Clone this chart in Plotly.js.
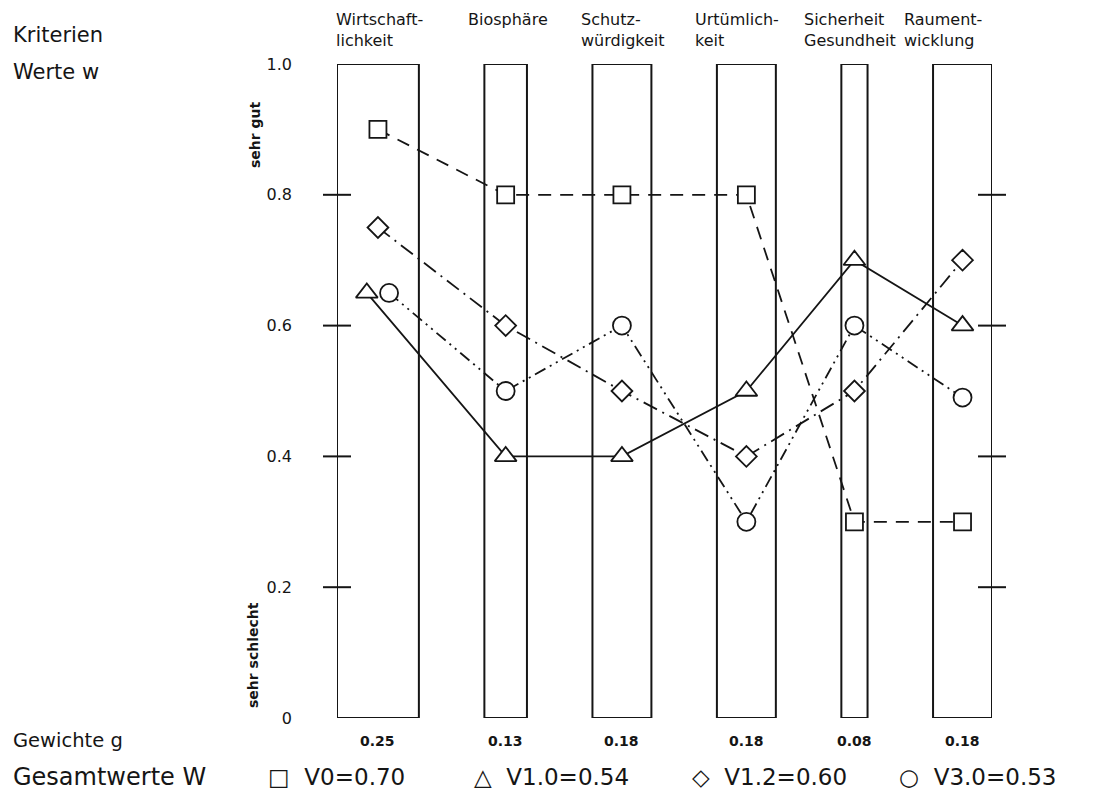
<!DOCTYPE html>
<html><head><meta charset="utf-8">
<script src="https://cdn.plot.ly/plotly-3.0.1.min.js"></script>
<style>html,body{margin:0;padding:0;background:#fff}#chart{width:1119px;height:796px}</style>
</head><body><div id="chart"></div>
<script>
// ---- data ----
const criteria = ["Wirtschaft-<br>lichkeit","Biosphäre","Schutz-<br>würdigkeit","Urtümlich-<br>keit","Sicherheit<br>Gesundheit","Raument-<br>wicklung"];
const weights = [0.25,0.13,0.18,0.18,0.08,0.18];
const weightLabels = ["0.25","0.13","0.18","0.18","0.08","0.18"];
const variants = ["V0","V1.0","V1.2","V3.0"];
const totals = [0.70,0.54,0.60,0.53];
const valuesV0  = [0.90,0.80,0.80,0.80,0.30,0.30];
const valuesV10 = [0.65,0.40,0.40,0.50,0.70,0.60];
const valuesV12 = [0.75,0.60,0.50,0.40,0.50,0.70];
const valuesV30 = [0.65,0.50,0.60,0.30,0.60,0.49];
const yTickVals = [0,0.2,0.4,0.6,0.8,1.0];
const yTickText = ["0","0.2","0.4","0.6","0.8","1.0"];

// ---- layout constants ----
const GAP = 0.2;
const L = 337, R = 992, T = 64, B = 718, W = 1119, H = 796;
const FONT = "DejaVu Sans";
const INK = "#151515";
const lefts = []; let acc = 0;
weights.forEach(w => { lefts.push(acc); acc += w + GAP; });
const xMax = acc - GAP;
const centers = weights.map((w,i) => lefts[i] + w/2);
const px = p => (p - L) / (R - L);
const py = p => (B - p) / (B - T);

const styles = [
  {symbol:"square", size:17, dash:"13px,9px", sym:"□", shift:[0,0,0,0,0,0]},
  {symbol:"triangle-up", size:19, dash:"solid", sym:"△", shift:[-0.034,0,0,0,0,0]},
  {symbol:"diamond", size:16, dash:"15px,6px,2px,6px", sym:"◇", shift:[0,0,0,0,0,0]},
  {symbol:"circle", size:18, dash:"12px,5px,2px,5px,2px,5px", sym:"○", shift:[0.034,0,0,0,0,0]}
];
const seriesValues = [valuesV0, valuesV10, valuesV12, valuesV30];

const traces = [];
traces.push({
  type:"bar", x:centers, y:weights.map(()=>1), width:weights, base:0,
  marker:{color:"rgba(255,255,255,1)", line:{color:INK, width:2}},
  hoverinfo:"skip", cliponaxis:false
});
seriesValues.forEach((vals, k) => {
  const s = styles[k];
  traces.push({
    type:"scatter", mode:"lines+markers", name:variants[k],
    x:centers.map((c,i)=>c + s.shift[i]), y:vals,
    line:{color:INK, width:1.8, dash:s.dash},
    marker:{symbol:s.symbol, size:s.size, color:"#fff", line:{color:INK, width:1.8}},
    cliponaxis:false
  });
});
const inner = yTickVals.filter(v => v > 0 && v < 1);
traces.push({
  type:"scatter", mode:"markers", hoverinfo:"skip",
  x:inner.map(()=>0).concat(inner.map(()=>xMax)), y:inner.concat(inner),
  marker:{symbol:"line-ew", size:20, line:{color:INK, width:2}},
  cliponaxis:false
});

const ann = [];
const txt = (text, x, y, size, opts={}) => ann.push(Object.assign({
  text, x, y, xref:"paper", yref:"paper", showarrow:false,
  font:{family:FONT, size, color:INK}, xanchor:"left", yanchor:"middle"
}, opts));

txt("Kriterien", px(11), py(35), 21);
txt("Werte w", px(11), py(72), 21);
txt("Gewichte g", px(11), py(740), 19.5);
txt("Gesamtwerte W", px(11), py(777), 24);

const catX = [334, 466, 579, 693, 802, 902];
criteria.forEach((c,i) => txt(c, px(catX[i]), py(8), 16, {yanchor:"top", align:"left"}));

weightLabels.forEach((t,i) => ann.push({
  text:"<b>"+t+"</b>", x:centers[i], y:py(741), xref:"x", yref:"paper", showarrow:false,
  font:{family:FONT, size:14, color:INK}, xanchor:"center", yanchor:"middle"
}));

txt("<b>sehr gut</b>", px(255), py(135), 14, {xanchor:"center", textangle:-90});
txt("<b>sehr schlecht</b>", px(253), py(655), 14, {xanchor:"center", textangle:-90});

const legX = [266, 472, 690, 897];
variants.forEach((v,k) => txt(styles[k].sym + "  " + v + "=" + totals[k].toFixed(2), px(legX[k]), py(777), 23));

const layout = {
  width:W, height:H, showlegend:false,
  margin:{l:L, r:W-R, t:T, b:H-B, pad:0},
  paper_bgcolor:"#fff", plot_bgcolor:"#fff",
  xaxis:{range:[0,xMax], visible:false, fixedrange:true},
  yaxis:{range:[0,1], tickvals:yTickVals, ticktext:yTickText, ticks:"", showgrid:false,
         zeroline:false, showline:false, ticklabelstandoff:44,
         tickfont:{family:FONT, size:16, color:INK}, fixedrange:true},
  annotations:ann, bargap:0
};
Plotly.newPlot("chart", traces, layout, {displayModeBar:false, staticPlot:true});
</script></body></html>
